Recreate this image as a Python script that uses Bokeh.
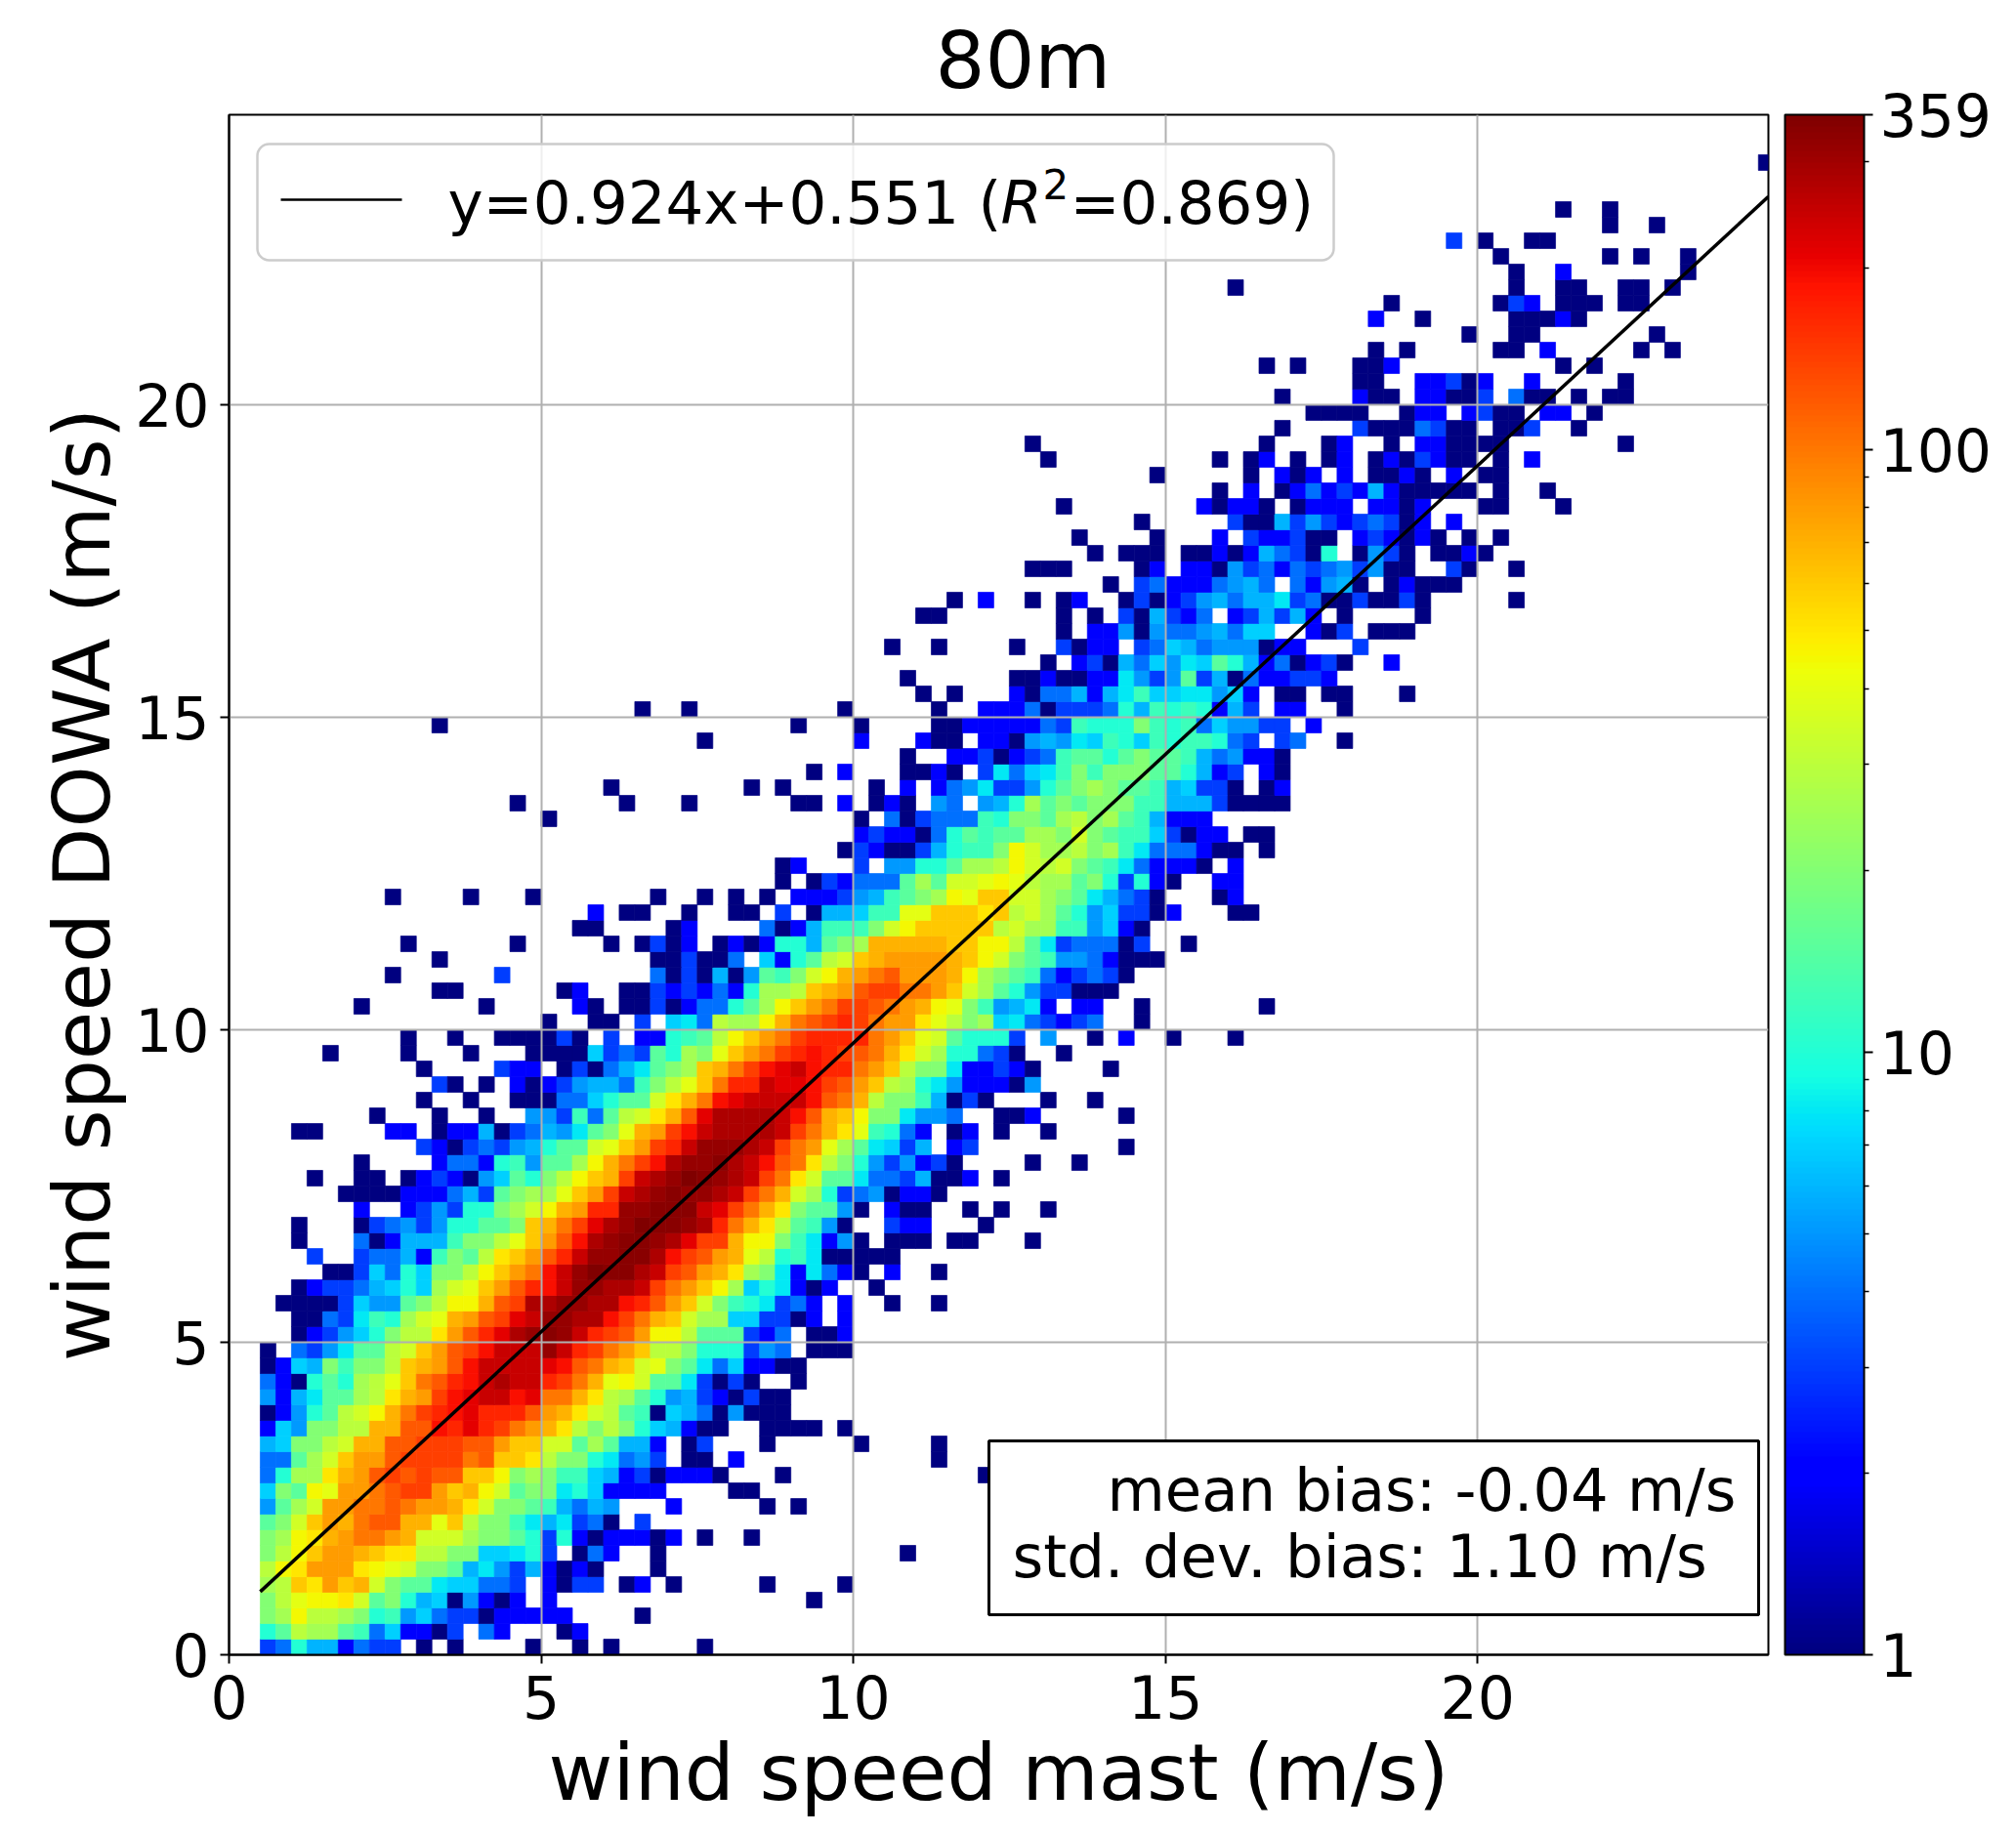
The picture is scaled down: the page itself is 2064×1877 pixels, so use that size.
from bokeh.plotting import figure
from bokeh.models import (LogColorMapper, ColorBar, FixedTicker, BoxAnnotation, Label, ColumnDataSource)
from bokeh.embed import file_html
from bokeh.resources import INLINE

# ---- data ----
# count levels used for the cell codes
LEVEL_CODES = "abcdefghijklmnopqrstuvwxyzABCDEF"
LEVEL_COUNTS = [1, 2, 3, 4, 5, 6, 7, 8, 10, 12, 15, 20, 25, 30, 35, 40, 45, 50, 60, 70, 80, 100,
                120, 140, 165, 190, 215, 245, 280, 315, 340, 359]
BIN_WIDTH = 0.25
FIRST_X_EDGE = 0.5

# row index (y bin) -> cell codes, first segment starts at column 0
CELLS_COL0 = {
 0: "cdiffbdcc.a.a....a..a.a", 1: "iknmmkjdgbbac.db...ab..", 2: "lmqnnmlijegdccabbbbb...",
 3: "lnpqqroklifgaebab.b....", 4: "mnsrustolkkhggddc.bacc.", 5: "nqruuurqpollkfhecfbaba.",
 6: "lnqsuutsrrnnllgghic.adb", 7: "lmqrtuvvutooomllkicibab", 8: "klosutvwwttpsnlljhfhcda",
 9: "ekmouuvvwvuutrollkjfdfe", 10: "glkqpuuvwxxustqokllhigb", 11: "dimmrtuwxwxwwssqlmljjgf",
 12: "ddkmosuuwxxxxvwssrnllih", 13: "fgllnottwwxxxwwussookmk", 14: "bgellnnttwwzyAyxvutrnln",
 15: "abeiknoqtvxyzAyyywutron", 16: "ebfhkkmnrtuxzABBzAvvtrn", 17: "dbaikimnpsvwyzBCBByxvtp",
 18: "abgfljllnstuwzBBBBAzwvt", 19: "a.dcehkknosuwxzBBBDByxv", 20: "..abcegilnnruwyACDEDByx",
 21: "..aadchjimoptuwxABDDCCz", 22: ".aaaacgeeklnqqtwxCCDDCC", 23: "..abccdfgigmopsuwyzBDDC",
 24: "....aacgdigllnqsuvzBDFE", 25: "...c..cddfbjlknrsuwyBDD", 26: "..a...dabfffjllnpsuwzCD",
 27: "..a...acdeceiikklstvxAC", 28: "......b..bceciilmoqtuyy", 29: ".....aaaabbbdfcklmmpsux",
 30: "...a..aa.abcbaegkilnqst", 31: "......a....bddbijekkmqt", 32: "..........cbacdcefikkop",
 33: "..aa....bb.abbfacdfehkl", 34: ".......a...a..a..eecjdk", 35: "..........a..a..aaaddgi",
 36: "...........ca.a.babceff", 37: "..........a....cbb.acad", 38: "....a....a...a...aaaagc",
 39: ".........a..a..aaaaca.c", 40: "..................a..aa", 41: "......a.......a.....ba",
 42: "...........aa......ab", 43: "........a......c", 44: "...........a",
 45: ".........a......a.....a", 46: "....................aa", 47: ".....................b",
 48: "........a....a...a", 53: "..................a", 54: "................a",
 55: "......................a", 59: "...........a",
}
# second segment starts at column 23
CELLS_COL23 = {
 0: ".....a", 2: ".a", 3: "............a", 4: "ab.a.....a....a", 5: "..a",
 6: "..a...............a", 7: "bbab.a..a", 8: ".c", 9: "...b.....a.a", 10: "bbb....aa",
 11: "bcabbba...a............a", 12: "dec.aa.b............a", 13: "ffb.ac...a.....a....a",
 14: "ligfbaa..aaaa.a", 15: "kjagfdaeaaa", 16: "mkiefcbacaa", 17: "qokkhcaca..a", 18: "soplkhdgbbaa",
 19: "usnnliiiced.aaa", 20: "wuqqnkkkcbd.aab", 21: "xvtsommggccab.b", 22: "zywusoljihcdb.b..a..a",
 23: "CBxvusqmgihbab..a", 24: "ECBxwutrmlhbhdba.b..a....", 25: "EECzxwutpnijhaaaaa.......",
 26: "EEDCAxxtqqljhbea.aaa.aa..", 27: "DFEEDCyvtrnkjea..cbb...a.", 28: "DDEEEBAxvtrlkkea.baa..a.a",
 29: "BCDEDDCBxvtomicdeabba....", 30: "xBCDFEDCBxvrokkhddcfaab.a", 31: "vxzCDDECBzwvrnliecebca...",
 32: "suxyBDDDCBxvupmkhgcf.bc..", 33: "ptuxzBCCCCBxvtrpjidb.ab.a", 34: "nortwACCCCBzwtsqllheed..a",
 35: "kkortvzABBBBzwvtnlljfaca.", 36: "djlnpsvyyBAAzxwusnmihebbb", 37: "fhklmstvxzABzyyvusnllhbbc",
 38: "dckimlpsuvxyzyxwvtromiidc", 39: ".bbijknqsuvxyyyyvuspokiii", 40: ".c.ghdnmmqtvwxyxvuurpnlmg",
 41: "aacabddikmqsuvxxwvutqplje", 42: "aacbcbdbimmnstuwxxvvusomk", 43: "..dacafaekjloqtuvwuuutqml",
 44: "..aacaad.gbiknostuuuutsqo", 45: ".acab.ababiifklmtttttssqq", 46: "...ab....dabfjjjloqsssssn",
 47: "aa..a..aa.c.affgjjppsssrs", 48: "..a..a.a.a.bbbcefjklmqpss", 49: "..........a.acbdddkmkoopq",
 50: "..........ab...c.eeiikmmn", 51: "..............acbaacfijjl", 52: "...............bcbbadikjk",
 53: "...............a.dacdddji", 54: "a...a......aa.b.aba.ed.ef", 55: "........a.a.....a.b.bdehc",
 56: "............a.b...aaba.ch", 57: "..................a..bbca", 58: ".....a.........b...baa.bb",
 59: "...........a...a....aabbb", 60: ".a..a.........a.....a..bb", 61: "...................a.a",
 62: "..................a", 64: ".................a..a", 66: "...................aa",
 67: ".....................a.b",
}
# third segment starts at column 48
CELLS_COL48 = {
 26: ".a", 28: "..a", 31: ".a..a", 32: ".......a", 33: "..a", 34: "ab.....a", 35: "..a..a", 36: "ae",
 37: "ba....a", 38: "a..a", 39: "c.e..a.b..a...a", 40: "hdcbcd..a", 41: "fhb.bb..a.......a",
 42: "ieccaaa", 43: "kjdbcdca", 44: "lkjeedbaaa", 45: "nkhcdddac..a", 46: "ommjjegba",
 47: "nomkiegccab...aa", 48: "oomlkhfdca...ab", 49: "pnmmklicib" "a..bb", 50: "qonolkjhdbbba.b",
 51: "qommnlmjhdddbaa.a", 52: "kmmlolkjjgcabb.aa", 53: "llkmnlmkjfbbb", 54: "imklklll" "jj" "fff" "c" "aaaa",
 55: "ceiklmlkkjfgcca.ab", 56: "dghjljlllkkifbc.ba", 57: "bcdjkkiklkkjfdebba",
 58: "aefehgjigjijjidc.cd..a", 59: "bbdcjiiiljijdgeecc.b", 60: "bdacccdifjijibfc.bb..a",
 61: "baddfbfhjgghhegb.aa.aa", 62: "aabaabbhecekcfadbbccb", 63: "..a.bcafdgehgkifbdabca..b",
 64: "a..cabb.cdgfdeeeabb...c", 65: "...a.bbeaeddefdgg..bac.aa", 66: "...a.a.cafcbd.bcfcfb.a",
 67: ".a.ab..acabcefdffhcdaacaa", 68: "......a.cdbbbdefd.dbefa.a", 69: ".aaa....ab.bbaecdbdcdecea",
 70: ".....a.aaa.aababfdcai.aec", 71: "....a....a...b.cbbcaa.bcb", 72: "........a.....caafcecbcdc",
 73: "...a........babba.abbb.bb", 74: ".............a.b.abdbcbfb", 75: ".........a.....a.bab.b.aa",
 76: "..a..........a.ab.a.ab.ab", 77: ".a..............a...ab..a", 78: ".................a....caa",
 79: "...................aaaa", 80: ".................a....baa", 81: "......................aa",
 82: "................a.a...aab", 83: ".......................a", 85: ".......................b",
 86: "........................a", 87: "..............a",
}
# fourth segment starts at column 73
CELLS_COL73 = {
 61: "a", 65: "a", 66: ".a", 67: "ca.....a", 68: "baaa", 69: "a..ca..a", 70: "a.aaba", 71: "aba.a.a",
 72: "ab.b", 73: "ab...aa...a", 74: "aaaaa.a..a", 75: "ba.b.aa", 76: "acbaa.a.b",
 77: ".bbaaaa.......a", 78: "adcaa.aac..a", 79: "abb.bcaa.bb.a", 80: ".bbaac.daa.a.aa",
 81: ".bbcab..b.....a", 82: "..........a.a", 83: "a.....aa.b.....a.a", 84: "....a..aa.......a",
 85: ".a.....aaaba", 86: "......acb.aaa.aa", 87: ".......a..aa..aa.a", 88: ".......a..b.......a",
 89: "......a......a.a..a", 90: "...c.a..aa", 91: ".............a..a", 92: "..........a..a",
 95: ".......................a",
}
SEGMENTS = [(0, CELLS_COL0), (23, CELLS_COL23), (48, CELLS_COL48), (73, CELLS_COL73)]

FIT_X = [0.5, 24.66]
FIT_Y = [1.01, 23.33]
AXIS_TICKS = [0, 5, 10, 15, 20]
CBAR_TICKS = [1, 10, 100, 359]
CBAR_MINOR = [2, 3, 4, 5, 6, 7, 8, 9, 20, 30, 40, 50, 60, 70, 80, 90, 200, 300]
TITLE = "80m"
X_LABEL = "wind speed mast (m/s)"
Y_LABEL = "wind speed DOWA (m/s)"
BIAS_LINES = ["mean bias: -0.04 m/s", "std. dev. bias: 1.10 m/s"]

# ---- build ----
XMAX, YMAX = 24.66, 24.64
count_of = dict(zip(LEVEL_CODES, LEVEL_COUNTS))
left, right, bottom, top, counts = [], [], [], [], []
for start, seg in SEGMENTS:
    for row, codes in seg.items():
        for i, ch in enumerate(codes):
            if ch == ".":
                continue
            c = start + i
            x0 = FIRST_X_EDGE + c * BIN_WIDTH
            left.append(x0)
            right.append(min(x0 + BIN_WIDTH, XMAX))
            bottom.append(row * BIN_WIDTH)
            top.append((row + 1) * BIN_WIDTH)
            counts.append(count_of[ch])
src = ColumnDataSource(dict(left=left, right=right, bottom=bottom, top=top, count=counts))


def jet(f):
    r = min(1, max(0, (f - 0.35) / 0.31)) if f < 0.89 else 1 - 0.5 * (f - 0.89) / 0.11
    g = 0 if f < 0.125 else (f - 0.125) / 0.25 if f < 0.375 else 1 if f < 0.64 else max(0, (0.91 - f) / 0.27)
    b = 0.5 + f / 0.22 if f < 0.11 else 1 if f < 0.34 else max(0, (0.65 - f) / 0.31)
    return "#%02x%02x%02x" % (round(r * 255), round(g * 255), round(b * 255))


palette = [jet(i / 255) for i in range(256)]
mapper = LogColorMapper(palette=palette, low=1, high=359)

W, H = 2056, 1869
FONT = "DejaVu Sans"
p = figure(width=W, height=H, x_range=(0, XMAX), y_range=(0, YMAX), output_backend="svg",
           toolbar_location=None, x_axis_label=X_LABEL, y_axis_label=Y_LABEL,
           min_border_left=234, min_border_right=246, min_border_top=117, min_border_bottom=175)
p.background_fill_color = "white"
p.outline_line_color = "black"
p.outline_line_width = 2
p.title.text = TITLE
p.title.align = "left"
p.title.text_font = FONT
p.title.text_font_size = "80px"
p.title.text_font_style = "normal"
p.title.text_color = "black"
p.title.offset = 723
p.title.standoff = 17

p.quad(left="left", right="right", bottom="bottom", top="top", source=src, level="image",
       fill_color={"field": "count", "transform": mapper},
       line_color={"field": "count", "transform": mapper}, line_width=0.7)

for ax, ticks in ((p.xaxis, AXIS_TICKS), (p.yaxis, AXIS_TICKS)):
    ax.ticker = FixedTicker(ticks=ticks)
    ax.major_label_text_font = FONT
    ax.major_label_text_font_size = "60px"
    ax.major_label_text_color = "black"
    ax.axis_label_text_font = FONT
    ax.axis_label_text_font_size = "80.5px"
    ax.axis_label_text_font_style = "normal"
    ax.axis_label_text_color = "black"
    ax.major_tick_in = 0
    ax.major_tick_out = 9
    ax.major_tick_line_width = 2
    ax.major_tick_line_color = "black"
    ax.minor_tick_line_color = None
    ax.axis_line_color = "black"
    ax.axis_line_width = 2
    ax.major_label_standoff = 11
p.xaxis.axis_label_standoff = 5
p.yaxis.axis_label_standoff = 4
p.yaxis.major_label_orientation = "horizontal"
for g in (p.xgrid, p.ygrid):
    g.grid_line_color = "#b0b0b0"
    g.grid_line_width = 2
    g.ticker = FixedTicker(ticks=AXIS_TICKS)

p.line(FIT_X, FIT_Y, line_color="black", line_width=3.5)

# helpers: canvas pixels of the reference to data coordinates
PXX = 1576 / XMAX
PXY = 1577 / YMAX
dx = lambda px: (px - 234) / PXX
dy = lambda py: (1694 - py) / PXY


def txt(px, py, s, size=61, style="normal", align="left"):
    p.add_layout(Label(x=dx(px), y=dy(py), text=s, text_font=FONT, text_font_size=f"{size}px",
                       text_font_style=style, text_baseline="alphabetic", text_align=align,
                       text_color="black", level="overlay"))


# legend
p.add_layout(BoxAnnotation(left=dx(263), right=dx(1365), top=dy(147), bottom=dy(266), fill_color="white",
                           fill_alpha=0.8, line_color="#cccccc", line_width=2.5, line_alpha=1,
                           border_radius=12, level="annotation"))
LEG_X, LEG_Y = [dx(287), dx(411)], [dy(204), dy(204)]
leg = p.line(LEG_X, LEG_Y, line_color="black", line_width=2.5)
leg.level = "overlay"
txt(458, 207, "y=0.924x+0.551 (")
txt(1024, 207, "R", style="italic")
txt(1067, 188, "2", size=42)
txt(1095, 207, "=0.869)")

# statistics box
p.add_layout(BoxAnnotation(left=dx(1012), right=dx(1800), top=dy(1475), bottom=dy(1653), fill_color="white",
                           fill_alpha=1, line_color="black", line_width=3, line_alpha=1, level="annotation"))
txt(1133, 1525, BIAS_LINES[0], size=60.8)
txt(1036, 1593, BIAS_LINES[1], size=61)

cb = ColorBar(color_mapper=mapper, ticker=FixedTicker(ticks=CBAR_TICKS, minor_ticks=CBAR_MINOR),
              width=81, height=1577, padding=0, margin=0, location=(17, 0),
              major_label_text_font=FONT, major_label_text_font_size="60px", major_label_text_color="black",
              label_standoff=7, bar_line_color="black", bar_line_width=2, border_line_color=None,
              major_tick_in=0, major_tick_out=9, major_tick_line_color="black", major_tick_line_width=2,
              minor_tick_in=0, minor_tick_out=5, minor_tick_line_color="black", minor_tick_line_width=1.5)
p.add_layout(cb, "right")

open("out.html", "w").write(file_html(p, INLINE))
